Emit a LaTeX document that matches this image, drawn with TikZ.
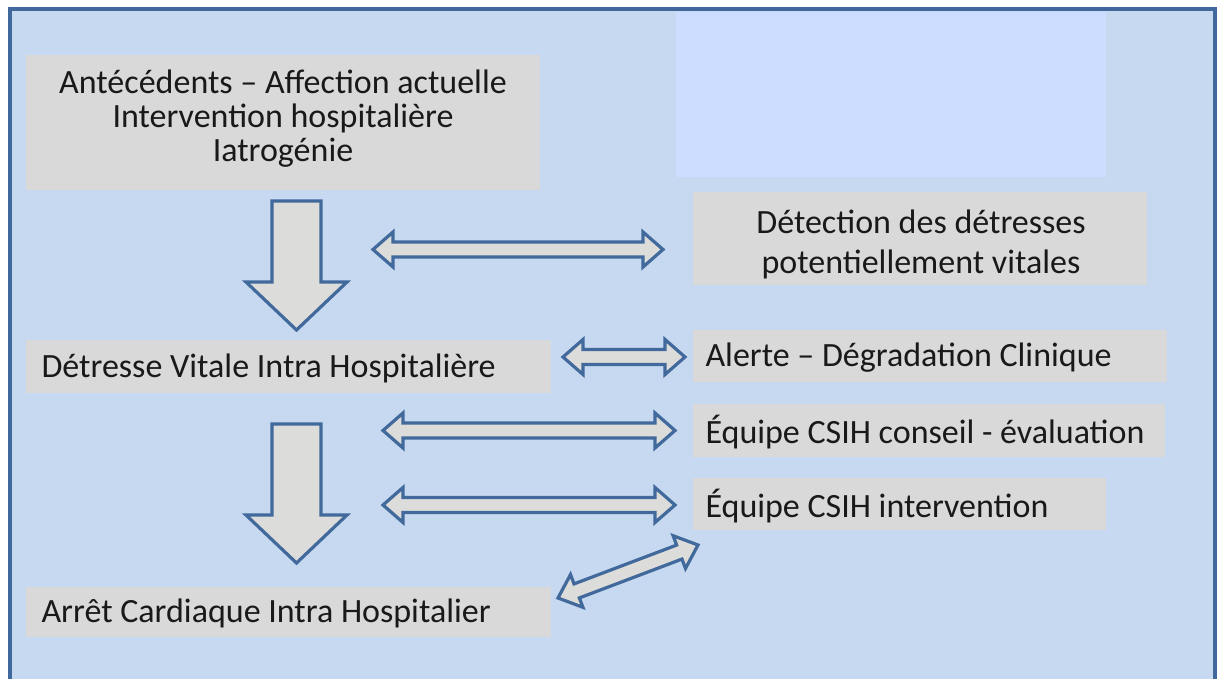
\documentclass[tikz,border=0pt]{standalone}
\usepackage{fontspec}
\setmainfont{Carlito}
\usetikzlibrary{calc}
\definecolor{framefill}{HTML}{C6D9F0}
\definecolor{frameline}{HTML}{41689C}
\definecolor{lightbox}{HTML}{CCDDFF}
\definecolor{boxgray}{HTML}{D9D9D9}
\definecolor{arrowline}{HTML}{41699C}
\definecolor{arrowfill}{HTML}{DCDCDA}
\tikzset{
  textbox/.style={fill=boxgray, inner sep=0pt},
  boxtext/.style={font=\fontsize{34}{34}\selectfont, text=black!90},
  blockarrow/.style={draw=arrowline, fill=arrowfill, line width=3.2pt, line join=miter}
}
% double block arrow between coordinates #1 and #2
\newcommand\mydblarrow[2]{%
  \coordinate (da1) at ($(#1)!20pt!(#2)$);
  \coordinate (db1) at ($(#2)!20pt!(#1)$);
  \draw[blockarrow] (#1) -- ($(da1)!17.5pt!90:(#2)$) -- ($(da1)!7.5pt!90:(#2)$)
    -- ($(db1)!7.5pt!-90:(#1)$) -- ($(db1)!17.5pt!-90:(#1)$) -- (#2)
    -- ($(db1)!17.5pt!90:(#1)$) -- ($(db1)!7.5pt!90:(#1)$)
    -- ($(da1)!7.5pt!-90:(#2)$) -- ($(da1)!17.5pt!-90:(#2)$) -- cycle;
}
% single down block arrow from #1 to tip #2, head length #3
\newcommand\mydownarrow[3]{%
  \coordinate (sa1) at ($(#2)!#3!(#1)$);
  \draw[blockarrow] ($(#1)!24.5pt!90:(#2)$) -- ($(sa1)!24.5pt!-90:(#1)$)
    -- ($(sa1)!50.5pt!-90:(#1)$) -- (#2) -- ($(sa1)!50.5pt!90:(#1)$)
    -- ($(sa1)!24.5pt!90:(#1)$) -- ($(#1)!24.5pt!-90:(#2)$) -- cycle;
}
\begin{document}
\begin{tikzpicture}[x=1pt,y=-1pt]
\useasboundingbox (0,0) rectangle (1218,679);
\begin{scope}
  \clip (0,0) rectangle (1218,679);
  \draw[frameline, fill=framefill, line width=3.5pt] (10,9) rectangle (1215,700);
\end{scope}
\fill[lightbox] (676,12) rectangle (1106,177);

% text boxes
\path[textbox] (26,55) rectangle (540,190);
\node[align=center, boxtext] (b1) at (283,119)
  {Antécédents – Affection actuelle\\Intervention hospitalière\\Iatrogénie};
\path[textbox] (693,192) rectangle (1147,285);
\node[align=center, boxtext, font=\fontsize{34}{40}\selectfont] (b2) at (921,244)
  {Détection des détresses\\potentiellement vitales};
\path[textbox] (26,340) rectangle (551,393);
\node[anchor=west, boxtext] (b3) at (38,368)
  {Détresse Vitale Intra Hospitalière};
\path[textbox] (693,330) rectangle (1167,382);
\node[anchor=west, boxtext] (b4) at (702,358)
  {Alerte – Dégradation Clinique};
\path[textbox] (693,404) rectangle (1165,457);
\node[anchor=west, boxtext] (b5) at (702,432)
  {Équipe CSIH conseil - évaluation};
\path[textbox] (693,478) rectangle (1106,530);
\node[anchor=west, boxtext] (b6) at (702,506)
  {Équipe CSIH intervention};
\path[textbox] (26,587) rectangle (551,637);
\node[anchor=west, boxtext] (b7) at (38,613)
  {Arrêt Cardiaque Intra Hospitalier};

% connector end points
\coordinate (d1s) at (296.5,201);
\coordinate (d1e) at (296.5,330);
\coordinate (d2s) at (296.5,424);
\coordinate (d2e) at (296.5,563);
\coordinate (h1a) at (373,249.5);
\coordinate (h1b) at (663,249.5);
\coordinate (h2a) at (563,357);
\coordinate (h2b) at (685,357);
\coordinate (h3a) at (383,430.5);
\coordinate (h3b) at (675,430.5);
\coordinate (h4a) at (383,505);
\coordinate (h4b) at (675,505);
\coordinate (g1a) at (558,598);
\coordinate (g1b) at (698,545);

\mydownarrow{d1s}{d1e}{48pt}
\mydownarrow{d2s}{d2e}{48pt}
\mydblarrow{h1a}{h1b}
\mydblarrow{h2a}{h2b}
\mydblarrow{h3a}{h3b}
\mydblarrow{h4a}{h4b}
\mydblarrow{g1a}{g1b}
\end{tikzpicture}
\end{document}
